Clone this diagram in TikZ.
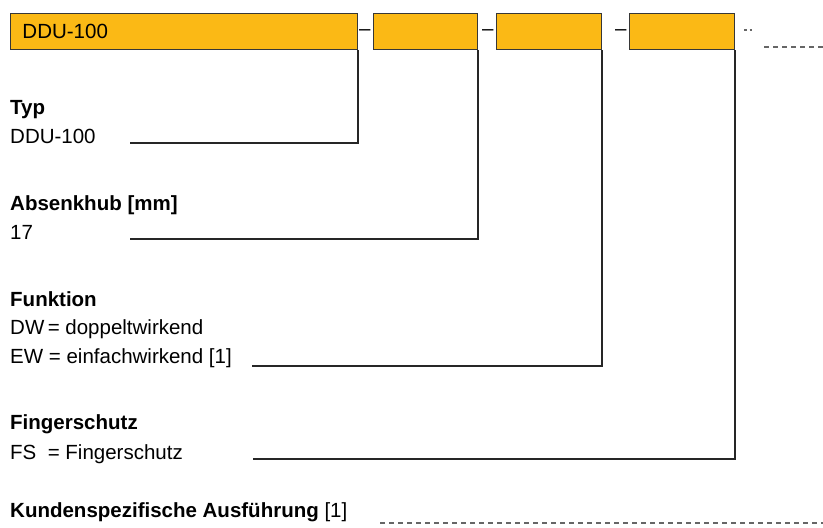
\documentclass[tikz,border=0pt]{standalone}
\usepackage{fontspec}
\setmainfont{Liberation Sans}
\definecolor{codeyellow}{RGB}{251,185,21}
\definecolor{framegray}{RGB}{55,55,55}
\tikzset{
  codebox/.style={draw=framegray, line width=1pt, fill=codeyellow, anchor=north west, inner sep=0pt, minimum height=36pt, font=\fontsize{20.5}{24}\selectfont},
  leader/.style={line width=1.2pt, draw=black!85},
  openlead/.style={dash pattern=on 5pt off 4pt, line width=1.2pt, draw=black!60},
  txt/.style={anchor=base west, inner sep=0pt, font=\fontsize{20.5}{24}\selectfont},
}
\begin{document}
\begin{tikzpicture}[x=1pt, y=-1pt]
\useasboundingbox (0,0) rectangle (823,528);
\node[codebox, minimum width=347pt, text width=323pt, inner xsep=12pt] (typbox) at (10,13) {DDU-100}; % Typ
\node[codebox, minimum width=104pt] (hubbox) at (373,13) {}; % Absenkhub
\node[codebox, minimum width=105pt] (funkbox) at (496,13) {}; % Funktion
\node[codebox, minimum width=105pt] (fsbox) at (629,13) {}; % Fingerschutz
\node[txt] (sep1) at (359,35.5) {–};
\node[txt] (sep2) at (482,35.5) {–};
\node[txt] (sep3) at (615,35.5) {–};
\coordinate (more) at (744,30);
\coordinate (moreend) at (753,30);
\draw[openlead, dash pattern=on 2.5pt off 3pt] (more) -- (moreend);
\coordinate (tail) at (764,47);
\coordinate (tailend) at (823,47);
\draw[openlead] (tail) -- (tailend);

\node[txt] (typhead) at (10,114) {\textbf{Typ}};
\node[txt] (typval) at (10,143) {DDU-100};
\coordinate (typend) at (130,143);
\draw[leader] (typbox.south east) |- (typend);

\node[txt] (hubhead) at (10,210) {\textbf{Absenkhub [mm]}};
\node[txt] (hubval) at (10,239) {17};
\coordinate (hubend) at (130,239);
\draw[leader] (hubbox.south east) |- (hubend);

\node[txt] (funkhead) at (10,306) {\textbf{Funktion}};
\node[txt] (funkdw) at (10,334) {DW\,= doppeltwirkend};
\node[txt] (funkew) at (10,363) {EW = einfachwirkend [1]};
\coordinate (funkend) at (252,366);
\draw[leader] (funkbox.south east) |- (funkend);

\node[txt] (fshead) at (10,429) {\textbf{Fingerschutz}};
\node[txt] (fsval) at (10,459) {FS\ \ = Fingerschutz};
\coordinate (fsend) at (253,459);
\draw[leader] (fsbox.south east) |- (fsend);

\node[txt] (kundhead) at (10,517) {\textbf{Kundenspezifische Ausführung} [1]};
\coordinate (kund) at (380,523);
\coordinate (kundend) at (823,523);
\draw[openlead] (kund) -- (kundend);
\end{tikzpicture}
\end{document}
